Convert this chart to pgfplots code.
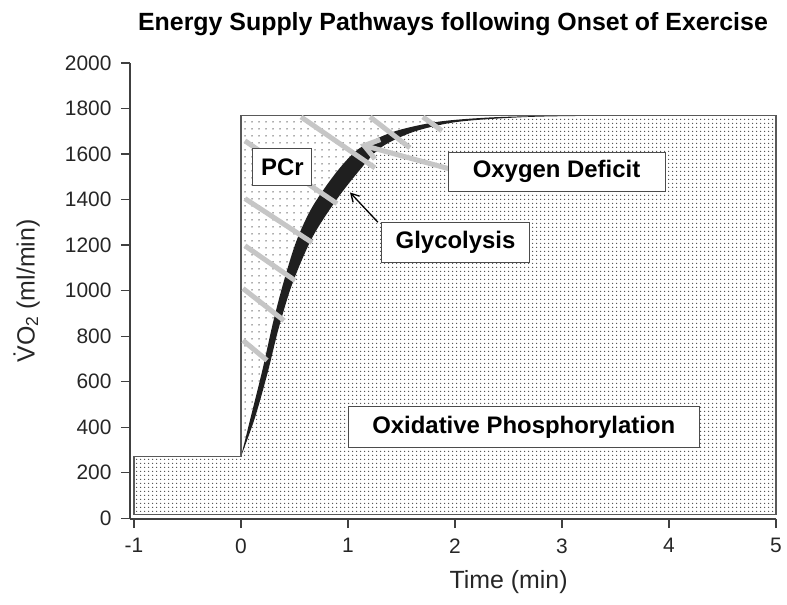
\documentclass[border=0pt]{standalone}
\usepackage{pgfplots}
\pgfplotsset{compat=1.18}
\usepgfplotslibrary{fillbetween}
\usetikzlibrary{patterns.meta,arrows.meta}
\usepackage{fontspec}
\setmainfont{Liberation Sans}

\begin{document}
\begin{tikzpicture}
\begin{axis}[
  scale only axis, width=646bp, height=456bp,
  xmin=-1.037, xmax=5, ymin=-4, ymax=2000,
  axis lines=left,
  axis line style={-, black!75, line width=1.2bp},
  xtick={-1,0,1,2,3,4,5},
  ytick={0,200,400,600,800,1000,1200,1400,1600,1800,2000},
  tick align=outside, major tick length=9bp,
  tick style={black!75, line width=1.1bp},
  /pgf/number format/assume math mode=true,
  /pgf/number format/1000 sep={},
  ticklabel style={font=\fontsize{21}{25}\selectfont, text=black!85},
  xticklabel style={yshift=-7bp},
  yticklabel style={xshift=-6bp},
  xlabel={Time (min)},
  xlabel style={at={(rel axis cs:0.586,0)}, anchor=center, yshift=-63bp, font=\fontsize{25}{29}\selectfont, text=black!85},
  ylabel={\.{V}O\textsubscript{2} (ml/min)},
  ylabel style={at={(rel axis cs:-0.160,0.5)}, anchor=center, font=\fontsize{25}{29}\selectfont, text=black!85},
  title={Energy Supply Pathways following Onset of Exercise},
  title style={at={(rel axis cs:0.5,1.073)}, anchor=center, font=\bfseries\fontsize{25}{29}\selectfont},
  clip=false,
]
% boundary curves
\addplot[name path=U, draw=none, smooth] coordinates {
 (0,270) (0.1,460) (0.2,650) (0.3,860) (0.4,1040) (0.52,1220) (0.67,1370)
 (0.9,1525) (1.11,1626) (1.42,1697) (1.83,1741) (2.3,1760) (2.8,1767) (3.5,1770) (5,1770)};
\addplot[name path=L, draw=none, smooth] coordinates {
 (0,270) (0.13,440) (0.25,640) (0.35,830) (0.48,1030) (0.664,1231) (0.879,1390)
 (1.084,1515) (1.3,1626) (1.61,1697) (2.02,1741) (2.64,1762) (3.3,1768) (4.1,1770) (5,1770)};
\addplot[name path=T, draw=none] coordinates {(0,1770) (5,1770)};
\addplot[name path=B, draw=none] coordinates {(0,15) (5,15)};
% PCr / deficit region (sparse dots)
\addplot[pattern={Dots[distance=7bp, radius=0.75bp]}, pattern color=black!65, draw=none] fill between[of=T and U];
% glycolysis band
\addplot[fill=black!88, draw=none] fill between[of=U and L];
% oxidative phosphorylation (dense dots)
\addplot[pattern={Dots[distance=3.6bp, radius=0.7bp]}, pattern color=black!72, draw=none] fill between[of=L and B];
\addplot[pattern={Dots[distance=3.6bp, radius=0.7bp]}, pattern color=black!72, draw=none] coordinates {(-1,15) (-1,270) (0,270) (0,15)} -- cycle;
% outline
\addplot[draw=black!65, line width=1.5bp, mark=none] coordinates {(-1,15) (-1,270) (0,270) (0,1770) (5,1770) (5,15)} -- cycle;
% oxygen deficit hatch lines
\begin{scope}[gray!45, line width=5bp]
\draw (axis cs:0.037,1658) -- (axis cs:0.897,1382);
\draw (axis cs:0.037,1404) -- (axis cs:0.664,1211);
\draw (axis cs:0.037,1197) -- (axis cs:0.505,1044);
\draw (axis cs:0.019,1009) -- (axis cs:0.402,868);
\draw (axis cs:0.019,781) -- (axis cs:0.243,693);
\draw (axis cs:0.561,1763) -- (axis cs:1.252,1539);
\draw (axis cs:1.206,1763) -- (axis cs:1.579,1627);
\draw (axis cs:1.70,1763) -- (axis cs:1.878,1702);
\draw[-{Straight Barb[length=14bp,width=20bp]}] (axis cs:2.0,1528) -- (axis cs:1.112,1642);
\end{scope}
\draw[black, line width=1.3bp, -{Straight Barb[length=8bp,width=9bp]}] (axis cs:1.280,1300) -- (axis cs:1.019,1431);
% labels
\begin{scope}[every node/.style={draw=black!70, fill=white, line width=1bp, inner sep=0pt, font=\bfseries\fontsize{24}{28}\selectfont}]
\node[minimum width=59bp, minimum height=37bp] at (axis cs:0.388,1543) {PCr};
\node[minimum width=217bp, minimum height=39bp] at (axis cs:2.949,1522) {Oxygen Deficit};
\node[minimum width=148bp, minimum height=40bp] at (axis cs:2.005,1211) {Glycolysis};
\node[minimum width=351bp, minimum height=41bp] at (axis cs:2.643,399) {Oxidative Phosphorylation};
\end{scope}
\coordinate (BL) at (rel axis cs:0,0);
\coordinate (TR) at (rel axis cs:1,1);
\end{axis}
\pgfresetboundingbox
\path[use as bounding box] ([shift={(-130bp,-86bp)}]BL) rectangle ([shift={(11bp,63bp)}]TR);
\end{tikzpicture}
\end{document}
